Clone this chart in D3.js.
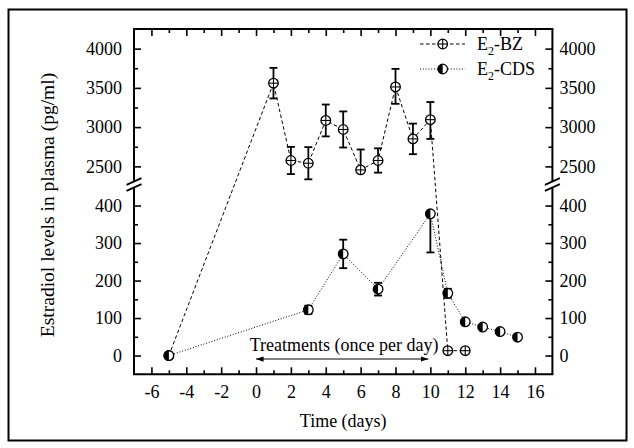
<!DOCTYPE html>
<html>
<head>
<meta charset="utf-8">
<script src="https://cdn.jsdelivr.net/npm/d3@7"></script>
<style>
  body { margin: 0; background: #fff; }
  svg text { font-family: "Liberation Serif", "Times New Roman", serif; fill: #000; }
</style>
</head>
<body>
<svg id="chart" width="634" height="448"></svg>
<script>
// data
const bzDays = [-5, 1, 2, 3, 4, 5, 6, 7, 8, 9, 10, 11, 12];
const bzValues = [0, 3560, 2575, 2540, 3085, 2970, 2455, 2575, 3512, 2850, 3095, 13, 13];
const bzErrLow = [0, 195, 173, 205, 203, 230, 0, 155, 215, 195, 245, 0, 0];
const bzErrHigh = [0, 195, 173, 205, 203, 230, 260, 155, 230, 195, 225, 0, 0];

const cdsDays = [-5, 3, 5, 7, 10, 11, 12, 13, 14, 15];
const cdsValues = [0, 122, 271, 177, 378, 166, 90, 76, 64, 49];
const cdsErrLow = [0, 11, 38, 17, 103, 12, 6, 0, 0, 0];
const cdsErrHigh = [0, 11, 38, 17, 0, 12, 6, 0, 0, 0];

const xMajor = [-6, -4, -2, 0, 2, 4, 6, 8, 10, 12, 14, 16];
const xMinor = [-5, -3, -1, 1, 3, 5, 7, 9, 11, 13, 15];
const yTopMajor = [2500, 3000, 3500, 4000];
const yTopMinor = [2750, 3250, 3750];
const yLowMajor = [0, 100, 200, 300, 400];
const yLowMinor = [50, 150, 250, 350];

const svg = d3.select("#chart");

// frame round the whole figure
svg.append("rect")
  .attr("x", 8.5).attr("y", 9.5)
  .attr("width", 618).attr("height", 431)
  .attr("fill", "none").attr("stroke", "#000").attr("stroke-width", 2);

const plotLeft = 134, plotRight = 552.4, plotTop = 29, plotBottom = 374.3;
const breakY = 184.5;

const x = d3.scaleLinear().domain([-7, 17]).range([plotLeft, plotRight]);
const yTop = d3.scaleLinear().domain([2250, 4250]).range([186, plotTop]);
const yLow = d3.scaleLinear().domain([-50, 450]).range([plotBottom, 186.8]);

// pick the segment a value belongs to
function y(v) { return v >= 1000 ? yTop(v) : yLow(v); }
function clampSeg(v, ref) {
  const d = ref >= 1000 ? yTop.domain() : yLow.domain();
  return Math.max(d[0], Math.min(d[1], v));
}

// plain hyphen for negatives, like the original
const fmt = d => String(d);

// axes
const fontSize = "18px";
function styleAxis(g) {
  g.select(".domain").remove();
  g.selectAll(".tick line").attr("stroke", "#000").attr("stroke-width", 1.6);
  g.selectAll(".tick text").style("font-size", fontSize).attr("font-family", null);
}

svg.append("g").attr("transform", `translate(0,${plotBottom})`)
  .call(d3.axisBottom(x).tickValues(xMajor).tickSize(-7).tickPadding(11).tickFormat(fmt))
  .call(styleAxis);
svg.append("g").attr("transform", `translate(0,${plotBottom})`)
  .call(d3.axisBottom(x).tickValues(xMinor).tickSize(-4).tickFormat(""))
  .call(styleAxis);
svg.append("g").attr("transform", `translate(0,${plotTop})`)
  .call(d3.axisTop(x).tickValues(xMajor).tickSize(-7).tickFormat(""))
  .call(styleAxis);
svg.append("g").attr("transform", `translate(0,${plotTop})`)
  .call(d3.axisTop(x).tickValues(xMinor).tickSize(-4).tickFormat(""))
  .call(styleAxis);

[[yTop, yTopMajor, yTopMinor], [yLow, yLowMajor, yLowMinor]].forEach(([sc, maj, min]) => {
  svg.append("g").attr("transform", `translate(${plotLeft},0)`)
    .call(d3.axisLeft(sc).tickValues(maj).tickSize(-7).tickPadding(12).tickFormat(fmt))
    .call(styleAxis);
  svg.append("g").attr("transform", `translate(${plotLeft},0)`)
    .call(d3.axisLeft(sc).tickValues(min).tickSize(-4).tickFormat(""))
    .call(styleAxis);
  svg.append("g").attr("transform", `translate(${plotRight},0)`)
    .call(d3.axisRight(sc).tickValues(maj).tickSize(-7).tickPadding(7).tickFormat(fmt))
    .call(styleAxis);
  svg.append("g").attr("transform", `translate(${plotRight},0)`)
    .call(d3.axisRight(sc).tickValues(min).tickSize(-4).tickFormat(""))
    .call(styleAxis);
});

// axis lines with the break
const axisLines = svg.append("g").attr("stroke", "#000").attr("stroke-width", 2).attr("fill", "none");
axisLines.append("line").attr("x1", plotLeft - 1).attr("x2", plotRight + 1).attr("y1", plotTop).attr("y2", plotTop);
axisLines.append("line").attr("x1", plotLeft - 1).attr("x2", plotRight + 1).attr("y1", plotBottom).attr("y2", plotBottom);
[plotLeft, plotRight].forEach(ax => {
  axisLines.append("line").attr("x1", ax).attr("x2", ax).attr("y1", plotTop).attr("y2", breakY - 3);
  axisLines.append("line").attr("x1", ax).attr("x2", ax).attr("y1", breakY + 3).attr("y2", plotBottom);
  [-3, 3].forEach(off => {
    axisLines.append("line")
      .attr("x1", ax - 7.5).attr("y1", breakY + off + 3.4)
      .attr("x2", ax + 7.5).attr("y2", breakY + off - 3.4)
      .attr("stroke-width", 1.8);
  });
});

// series
const bz = bzDays.map((d, i) => ({ d, v: bzValues[i], lo: bzErrLow[i], hi: bzErrHigh[i] }));
const cds = cdsDays.map((d, i) => ({ d, v: cdsValues[i], lo: cdsErrLow[i], hi: cdsErrHigh[i] }));

const line = d3.line().x(p => x(p.d)).y(p => y(p.v));

svg.append("path").datum(bz).attr("d", line)
  .attr("fill", "none").attr("stroke", "#000").attr("stroke-width", 1)
  .attr("stroke-dasharray", "3.5,2.5");
svg.append("path").datum(cds).attr("d", line)
  .attr("fill", "none").attr("stroke", "#000").attr("stroke-width", 1)
  .attr("stroke-dasharray", "1,1.8");

// error bars
function errorBars(data) {
  const g = svg.append("g").attr("stroke", "#000").attr("stroke-width", 1.8);
  data.forEach(p => {
    const cx = x(p.d);
    [[p.v + p.hi, p.hi], [p.v - p.lo, p.lo]].forEach(([end, e]) => {
      if (e <= 0) return;
      const ye = y(clampSeg(end, p.v));
      g.append("line").attr("x1", cx).attr("x2", cx).attr("y1", y(p.v)).attr("y2", ye);
      g.append("line").attr("x1", cx - 4).attr("x2", cx + 4).attr("y1", ye).attr("y2", ye);
    });
  });
}
errorBars(bz);
errorBars(cds);

// markers
const r = 4.8;
function crossMarker(g, cx, cy) {
  g.append("circle").attr("cx", cx).attr("cy", cy).attr("r", r)
    .attr("fill", "#fff").attr("stroke", "#000").attr("stroke-width", 1.3);
  g.append("line").attr("x1", cx - r).attr("x2", cx + r).attr("y1", cy).attr("y2", cy)
    .attr("stroke", "#000").attr("stroke-width", 1.1);
  g.append("line").attr("x1", cx).attr("x2", cx).attr("y1", cy - r).attr("y2", cy + r)
    .attr("stroke", "#000").attr("stroke-width", 1.1);
}
function halfMarker(g, cx, cy) {
  g.append("circle").attr("cx", cx).attr("cy", cy).attr("r", r)
    .attr("fill", "#fff").attr("stroke", "#000").attr("stroke-width", 1.3);
  g.append("path")
    .attr("d", `M${cx},${cy - r} A${r},${r} 0 0 0 ${cx},${cy + r} Z`)
    .attr("fill", "#000");
}

const markers = svg.append("g");
bz.forEach(p => crossMarker(markers, x(p.d), y(p.v)));
cds.forEach(p => halfMarker(markers, x(p.d), y(p.v)));

// treatments annotation
svg.append("defs").append("marker")
  .attr("id", "head").attr("viewBox", "0 -4 10 8")
  .attr("refX", 10).attr("refY", 0)
  .attr("markerWidth", 8).attr("markerHeight", 6)
  .attr("markerUnits", "userSpaceOnUse")
  .attr("orient", "auto-start-reverse")
  .append("path").attr("d", "M0,-3.5L10,0L0,3.5Z").attr("fill", "#000");

svg.append("line")
  .attr("x1", x(0)).attr("x2", x(10) - 2)
  .attr("y1", 359).attr("y2", 359)
  .attr("stroke", "#000").attr("stroke-width", 1.2)
  .attr("marker-start", "url(#head)").attr("marker-end", "url(#head)");
svg.append("text")
  .attr("x", x(5.05)).attr("y", 351)
  .attr("text-anchor", "middle").style("font-size", fontSize)
  .text("Treatments (once per day)");

// legend
const legend = [
  { name: "BZ", cy: 44, dash: "3.5,2.5", mark: crossMarker },
  { name: "CDS", cy: 69, dash: "1,1.8", mark: halfMarker }
];
legend.forEach(l => {
  svg.append("line").attr("x1", 420).attr("x2", 465).attr("y1", l.cy).attr("y2", l.cy)
    .attr("stroke", "#000").attr("stroke-width", 1).attr("stroke-dasharray", l.dash);
  l.mark(svg.append("g"), 442.7, l.cy);
  const t = svg.append("text").attr("x", 477).attr("y", l.cy + 6).style("font-size", fontSize);
  t.append("tspan").text("E");
  t.append("tspan").attr("dy", 5).style("font-size", "12px").text("2");
  t.append("tspan").attr("dy", -5).text("-" + l.name);
});

// axis titles
svg.append("text")
  .attr("x", (plotLeft + plotRight) / 2).attr("y", 427)
  .attr("text-anchor", "middle").style("font-size", fontSize)
  .text("Time (days)");
svg.append("text")
  .attr("transform", `translate(54,205) rotate(-90)`)
  .attr("text-anchor", "middle").style("font-size", "19.5px")
  .text("Estradiol levels in plasma (pg/ml)");
</script>
</body>
</html>
